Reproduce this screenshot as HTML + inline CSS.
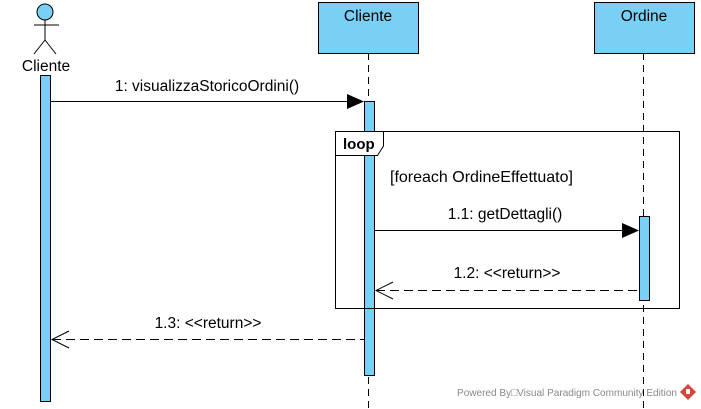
<!DOCTYPE html>
<html><head><meta charset="utf-8"><style>
body{margin:0;background:#fff}
svg{display:block}
text{font-family:"Liberation Sans",Arial,sans-serif;fill:#000}
</style></head><body>
<svg width="701" height="409" viewBox="0 0 701 409" xmlns="http://www.w3.org/2000/svg">
<rect width="701" height="409" fill="#fff"/>
<line x1="368.5" y1="53" x2="368.5" y2="409" stroke="#000" stroke-dasharray="7,5"/>
<line x1="643.5" y1="53" x2="643.5" y2="409" stroke="#000" stroke-dasharray="7,5"/>
<circle cx="45" cy="12" r="8" fill="#7acff5" stroke="#000"/>
<line x1="45" y1="20" x2="45" y2="40" stroke="#000"/>
<line x1="34" y1="25" x2="59" y2="25" stroke="#000"/>
<line x1="45" y1="40" x2="34" y2="54" stroke="#000"/>
<line x1="45" y1="40" x2="56" y2="54" stroke="#000"/>
<text x="46" y="71" font-size="15.5" text-anchor="middle">Cliente</text>
<rect x="318.5" y="2.5" width="100" height="51" fill="#7acff5" stroke="#000"/>
<text x="368" y="21" font-size="15.5" text-anchor="middle">Cliente</text>
<rect x="594.5" y="2.5" width="100" height="51" fill="#7acff5" stroke="#000"/>
<text x="644" y="21" font-size="15.5" text-anchor="middle">Ordine</text>
<rect x="40.5" y="75.5" width="10" height="326" fill="#7acff5" stroke="#000"/>
<rect x="364.5" y="101.5" width="10" height="274" fill="#7acff5" stroke="#000"/>
<rect x="639.5" y="216.5" width="10" height="84" fill="#7acff5" stroke="#000"/>
<rect x="335.5" y="131.5" width="344" height="177" fill="none" stroke="#000"/>
<path d="M335.5 131.5 H383.5 V146 L377.5 155.5 H335.5 Z" fill="#fff" stroke="#000"/>
<text x="343" y="149" font-size="15" font-weight="bold">loop</text>
<text x="390" y="182" font-size="16">[foreach OrdineEffettuato]</text>
<line x1="51" y1="101.5" x2="348" y2="101.5" stroke="#000"/>
<path d="M347 94 L364 101.5 L347 109 Z" fill="#000"/>
<text x="207" y="91" font-size="15.5" text-anchor="middle">1: visualizzaStoricoOrdini()</text>
<line x1="375" y1="230.5" x2="623" y2="230.5" stroke="#000"/>
<path d="M622 223 L639 230.5 L622 238 Z" fill="#000"/>
<text x="505" y="219" font-size="15.5" text-anchor="middle">1.1: getDettagli()</text>
<line x1="376" y1="290.5" x2="639" y2="290.5" stroke="#000" stroke-dasharray="9,5"/>
<polyline points="393,282 376,290.5 393,299" fill="none" stroke="#000"/>
<text x="507" y="278" font-size="15.5" text-anchor="middle">1.2: &lt;&lt;return&gt;&gt;</text>
<line x1="52" y1="339.5" x2="364" y2="339.5" stroke="#000" stroke-dasharray="9,5"/>
<polyline points="69,331 52,339.5 69,348" fill="none" stroke="#000"/>
<text x="208" y="328" font-size="15.5" text-anchor="middle">1.3: &lt;&lt;return&gt;&gt;</text>
<text x="457" y="396" font-size="10.5" textLength="220" lengthAdjust="spacingAndGlyphs" style="fill:#888">Powered By□Visual Paradigm Community Edition</text>
<path d="M688 384 L696 392 L688 400 L680 392 Z" fill="#d9443a"/>
<path d="M686 389 L690 389 L690 394 L686 394 Z" fill="#fff"/>
</svg>
</body></html>
